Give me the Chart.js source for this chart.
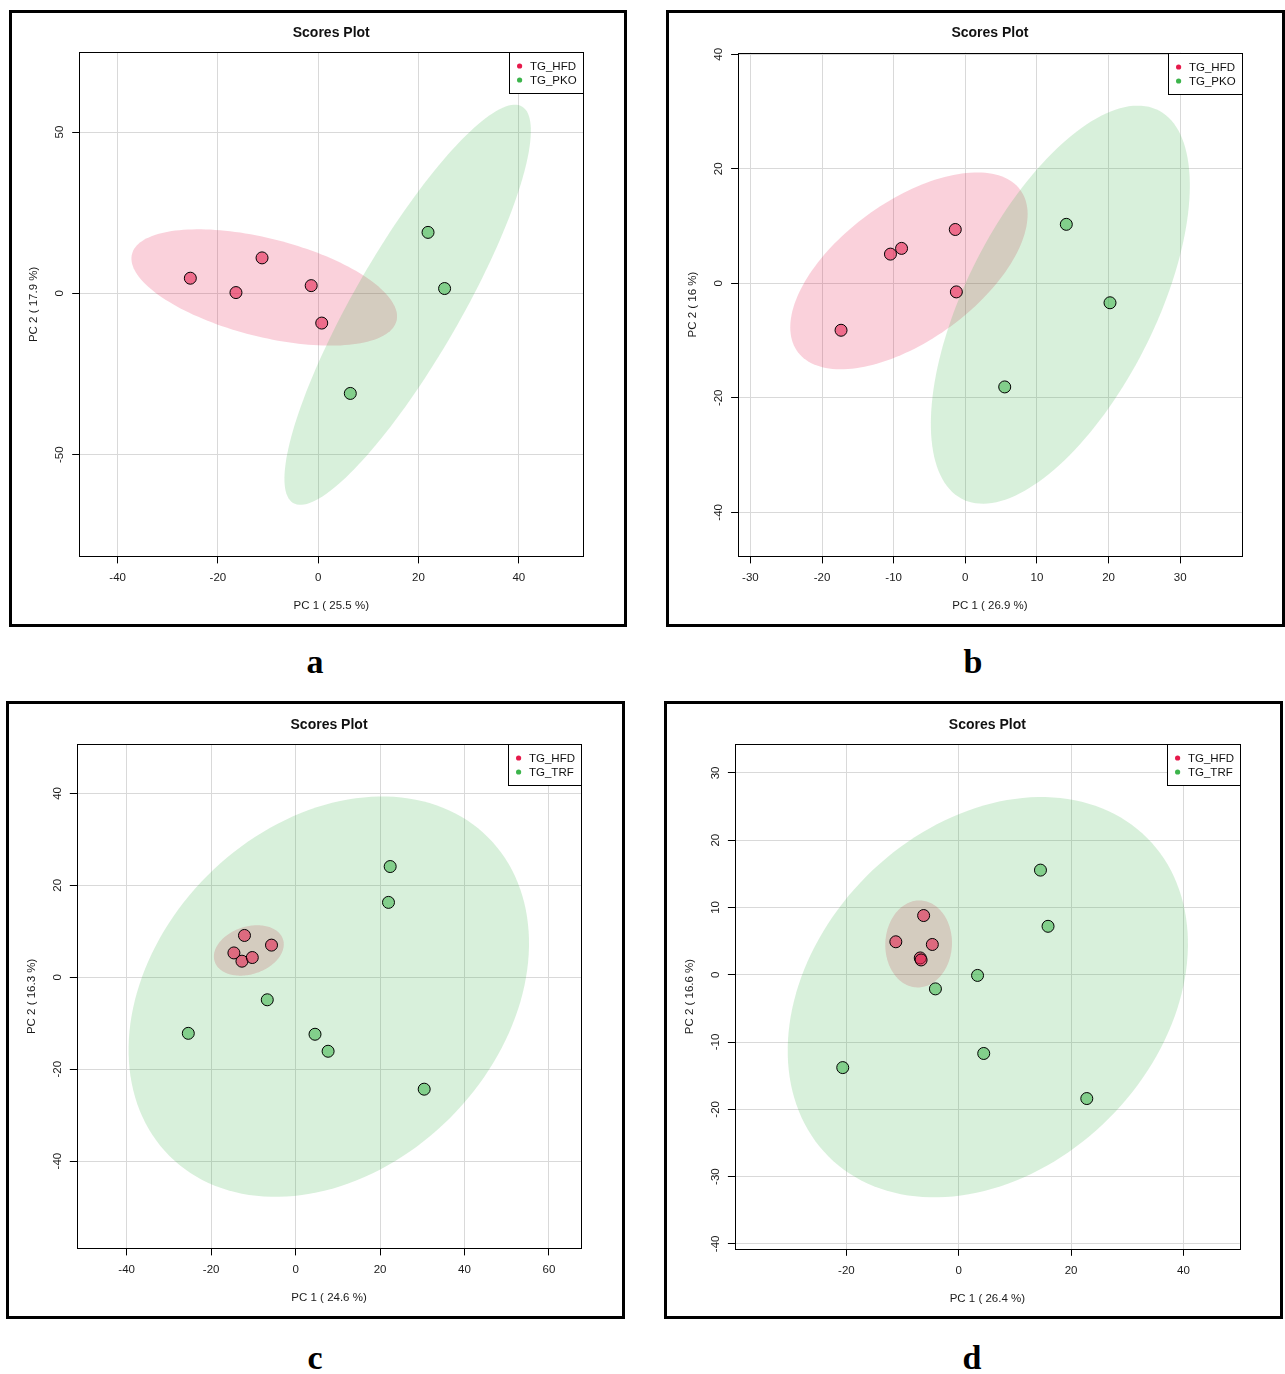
<!DOCTYPE html>
<html>
<head>
<meta charset="utf-8">
<script src="https://cdn.jsdelivr.net/npm/chart.js@4.4.1/dist/chart.umd.min.js"></script>
<style>
  body { margin: 0; background: #fff; }
  #page { position: relative; width: 1285px; height: 1374px; overflow: hidden; background: #fff; }
  .panel { position: absolute; box-sizing: border-box; border: 3px solid #000; background: #fff; }
  .panel canvas { position: absolute; left: 0; top: 0; }
  .tag { position: absolute; width: 60px; margin-left: -30px; text-align: center;
         font: bold 34px "Liberation Serif", "DejaVu Serif", serif; line-height: 1; color: #000; }
</style>
</head>
<body>
<div id="page">
  <div class="panel" id="pa"><canvas></canvas></div>
  <div class="panel" id="pb"><canvas></canvas></div>
  <div class="panel" id="pc"><canvas></canvas></div>
  <div class="panel" id="pd"><canvas></canvas></div>
  <div class="tag" style="left:315px;top:645px">a</div>
  <div class="tag" style="left:973px;top:645px">b</div>
  <div class="tag" style="left:315px;top:1341px">c</div>
  <div class="tag" style="left:972px;top:1341px">d</div>
</div>
<script>
// ---- data (PC1, PC2 scores) ----
const groupsAB = ["TG_HFD", "TG_PKO"];
const groupsCD = ["TG_HFD", "TG_TRF"];

const hfdA = [[-25.5, 4.7], [-16.4, 0.25], [-11.2, 11.0], [-1.4, 2.4], [0.7, -9.2]];
const pkoA = [[21.9, 18.9], [25.2, 1.5], [6.4, -31.0]];

const hfdB = [[-17.35, -8.2], [-10.45, 5.1], [-8.9, 6.1], [-1.4, 9.4], [-1.25, -1.5]];
const pkoB = [[14.1, 10.3], [20.2, -3.4], [5.5, -18.1]];

const hfdC = [[-12.1, 9.1], [-14.6, 5.3], [-12.7, 3.5], [-10.25, 4.3], [-5.7, 7.0]];
const trfC = [[22.4, 24.1], [22.0, 16.3], [-25.4, -12.2], [-6.7, -4.9], [4.6, -12.4], [7.7, -16.1], [30.45, -24.35]];

const hfdD = [[-6.25, 8.8], [-11.2, 4.9], [-4.7, 4.5], [-6.85, 2.5], [-6.7, 2.2]];
const trfD = [[14.55, 15.55], [15.9, 7.2], [3.35, -0.1], [-4.15, -2.1], [4.45, -11.7], [-20.65, -13.8], [22.8, -18.4]];

const xTicksA = [-40, -20, 0, 20, 40];
const yTicksA = [-50, 0, 50];
const xTicksB = [-30, -20, -10, 0, 10, 20, 30];
const yTicksB = [-40, -20, 0, 20, 40];
const xTicksC = [-40, -20, 0, 20, 40, 60];
const yTicksC = [-40, -20, 0, 20, 40];
const xTicksD = [-20, 0, 20, 40];
const yTicksD = [-40, -30, -20, -10, 0, 10, 20, 30];

const xTitles = ["PC 1 ( 25.5 %)", "PC 1 ( 26.9 %)", "PC 1 ( 24.6 %)", "PC 1 ( 26.4 %)"];
const yTitles = ["PC 2 ( 17.9 %)", "PC 2 ( 16 %)", "PC 2 ( 16.3 %)", "PC 2 ( 16.6 %)"];

const FONT = '"Liberation Sans", Arial, Helvetica, sans-serif';
const RED = "rgb(230,25,75)";
const GREEN = "rgb(60,180,75)";
const T95 = Math.sqrt(5.991465); // sqrt(qchisq(0.95, 2))

// 95% confidence ellipse of a group (same construction as R's ellipse package)
function ellipseRing(pts) {
    const n = pts.length;
    const mx = pts.reduce((s, p) => s + p.x, 0) / n;
    const my = pts.reduce((s, p) => s + p.y, 0) / n;
    let sxx = 0, syy = 0, sxy = 0;
    pts.forEach(p => {
        const dx = p.x - mx, dy = p.y - my;
        sxx += dx * dx; syy += dy * dy; sxy += dx * dy;
    });
    const sx = Math.sqrt(sxx / (n - 1)), sy = Math.sqrt(syy / (n - 1));
    const d = Math.acos(Math.max(-1, Math.min(1, (sxy / (n - 1)) / (sx * sy))));
    const ring = [];
    for (let i = 0; i < 160; i++) {
        const a = i / 160 * 2 * Math.PI;
        ring.push([mx + T95 * sx * Math.cos(a + d / 2), my + T95 * sy * Math.cos(a - d / 2)]);
    }
    return ring;
}

const ellipsePlugin = {
    id: "confEllipse",
    beforeDatasetsDraw(chart) {
        const { ctx, chartArea: a, scales: { x, y } } = chart;
        ctx.save();
        ctx.beginPath();
        ctx.rect(a.left, a.top, a.width, a.height);
        ctx.clip();
        chart.data.datasets.forEach(ds => {
            ctx.beginPath();
            ellipseRing(ds.data).forEach(([vx, vy], i) => {
                const px = x.getPixelForValue(vx), py = y.getPixelForValue(vy);
                if (i) ctx.lineTo(px, py); else ctx.moveTo(px, py);
            });
            ctx.closePath();
            ctx.fillStyle = ds.ellipseColor;
            ctx.fill();
        });
        ctx.restore();
    }
};

// plot frame + R style legend box in the top right corner
const framePlugin = {
    id: "frameLegend",
    afterDraw(chart) {
        const { ctx, chartArea: a } = chart;
        ctx.save();
        ctx.strokeStyle = "#000";
        ctx.lineWidth = 1;
        ctx.strokeRect(Math.round(a.left) + 0.5, Math.round(a.top) + 0.5,
            Math.round(a.right) - Math.round(a.left), Math.round(a.bottom) - Math.round(a.top));

        ctx.font = "11.5px " + FONT;
        const labels = chart.data.datasets.map(ds => ds.label);
        const w = Math.round(Math.max(...labels.map(l => ctx.measureText(l).width)) + 27);
        const h = 41;
        const lx = Math.round(a.right) - w, ly = Math.round(a.top);
        ctx.fillStyle = "#fff";
        ctx.fillRect(lx, ly, w, h);
        ctx.strokeRect(lx + 0.5, ly + 0.5, w, h);
        ctx.textBaseline = "middle";
        chart.data.datasets.forEach((ds, i) => {
            const cy = ly + 14 + i * 14;
            ctx.beginPath();
            ctx.arc(lx + 10.6, cy, 2.6, 0, 2 * Math.PI);
            ctx.fillStyle = ds.legendColor;
            ctx.fill();
            ctx.fillStyle = "#111";
            ctx.fillText(ds.label, lx + 21, cy + 0.5);
        });
        ctx.restore();
    }
};

const panels = [
    { id: "pa", box: [9, 10, 618, 617], plot: [79.2, 52.3, 583.3, 556.4],
      xRange: [-47.66, 52.86], yRange: [-81.5, 74.7], xTicks: xTicksA, yTicks: yTicksA,
      groups: groupsAB, series: [hfdA, pkoA] },
    { id: "pb", box: [666, 10, 619, 617], plot: [738.1, 52.7, 1241.8, 556.4],
      xRange: [-31.72, 38.6], yRange: [-47.7, 40.28], xTicks: xTicksB, yTicks: yTicksB,
      groups: groupsAB, series: [hfdB, pkoB] },
    { id: "pc", box: [6, 701, 619, 618], plot: [76.8, 744.3, 581.3, 1248.4],
      xRange: [-51.8, 67.65], yRange: [-59.0, 50.7], xTicks: xTicksC, yTicks: yTicksC,
      groups: groupsCD, series: [hfdC, trfC] },
    { id: "pd", box: [664, 701, 619, 618], plot: [734.9, 744.3, 1239.8, 1248.8],
      xRange: [-39.85, 50.04], yRange: [-40.73, 34.25], xTicks: xTicksD, yTicks: yTicksD,
      groups: groupsCD, series: [hfdD, trfD] }
];

function makeChart(p, k) {
    const div = document.getElementById(p.id);
    const [bl, bt, bw, bh] = p.box;
    Object.assign(div.style, { left: bl + "px", top: bt + "px", width: bw + "px", height: bh + "px" });
    const cl = bl + 3, ct = bt + 3, cw = bw - 6, ch = bh - 6;
    const canvas = div.querySelector("canvas");
    canvas.width = cw; canvas.height = ch;
    canvas.style.width = cw + "px"; canvas.style.height = ch + "px";

    const [pl, pt, pr, pb] = p.plot;
    const yAxisW = pl - cl, rightPad = cl + cw - pr, topH = pt - ct, xAxisH = ct + ch - pb;
    const tickFont = { family: FONT, size: 11.5 };

    const colors = [RED, GREEN];
    const fills = ["rgba(230,25,75,0.55)", "rgba(60,180,75,0.55)"];
    const shades = ["rgba(230,25,75,0.2)", "rgba(60,180,75,0.2)"];

    new Chart(canvas, {
        type: "scatter",
        data: {
            datasets: p.series.map((pts, i) => ({
                label: p.groups[i],
                data: pts.map(([x, y]) => ({ x, y })),
                backgroundColor: fills[i],
                borderColor: "#000",
                borderWidth: 1,
                pointRadius: 6,
                pointHoverRadius: 6,
                ellipseColor: shades[i],
                legendColor: colors[i],
                order: 2 - i
            }))
        },
        options: {
            responsive: false,
            animation: false,
            devicePixelRatio: 1,
            events: [],
            layout: { padding: { left: 0, top: 0, right: rightPad, bottom: 0 } },
            plugins: {
                legend: { display: false },
                tooltip: { enabled: false },
                title: {
                    display: true, text: "Scores Plot", fullSize: false, color: "#111",
                    font: { family: FONT, size: 14, weight: "bold", lineHeight: 1.2 },
                    padding: { top: topH - 28, bottom: 11.2 }
                }
            },
            scales: {
                x: {
                    type: "linear", bounds: "data", min: p.xRange[0], max: p.xRange[1],
                    afterBuildTicks: s => { s.ticks = p.xTicks.map(v => ({ value: v })); },
                    afterFit: s => { s.height = xAxisH; },
                    ticks: { autoSkip: false, maxRotation: 0, padding: 7.7, color: "#1a1a1a", font: tickFont },
                    grid: { color: "#d9d9d9", tickColor: "#000", tickLength: 7, lineWidth: 1 },
                    border: { display: false },
                    title: {
                        display: true, text: xTitles[k], color: "#1a1a1a", font: tickFont,
                        padding: { top: 0, bottom: xAxisH - 49.6 - 6.9 }
                    }
                },
                y: {
                    type: "linear", bounds: "data", min: p.yRange[0], max: p.yRange[1],
                    afterBuildTicks: s => { s.ticks = p.yTicks.map(v => ({ value: v })); },
                    afterFit: s => { s.width = yAxisW; },
                    ticks: { autoSkip: false, minRotation: 90, maxRotation: 90, crossAlign: "center",
                             padding: 4, color: "#1a1a1a", font: tickFont },
                    grid: { color: "#d9d9d9", tickColor: "#000", tickLength: 7, lineWidth: 1 },
                    border: { display: false },
                    title: {
                        display: true, text: yTitles[k], color: "#1a1a1a", font: tickFont,
                        padding: { top: yAxisW - 45 - 6.9, bottom: 0 }
                    }
                }
            }
        },
        plugins: [ellipsePlugin, framePlugin]
    });
}

panels.forEach(makeChart);
</script>
</body>
</html>
